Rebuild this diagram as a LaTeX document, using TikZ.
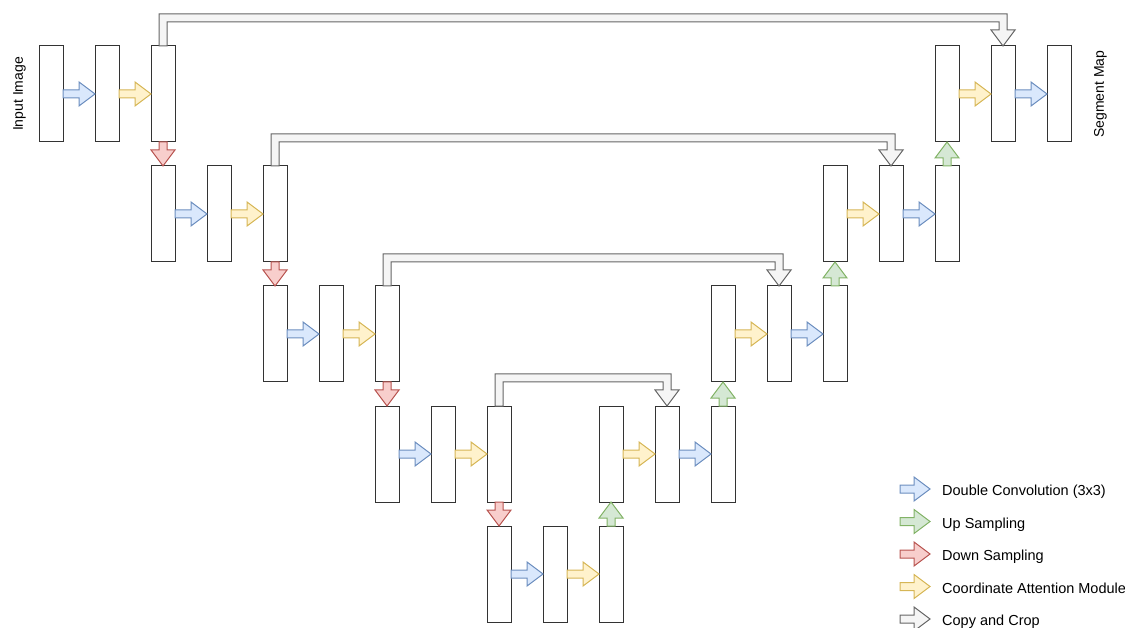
\documentclass[tikz,border=0pt]{standalone}
\usepackage{fontspec}
\setmainfont{Liberation Sans}
\usetikzlibrary{positioning, calc}
\definecolor{convfill}{HTML}{DAE8FC}
\definecolor{convline}{HTML}{6C8EBF}
\definecolor{upfill}{HTML}{D5E8D4}
\definecolor{upline}{HTML}{82B366}
\definecolor{downfill}{HTML}{F8CECC}
\definecolor{downline}{HTML}{B85450}
\definecolor{attfill}{HTML}{FFF2CC}
\definecolor{attline}{HTML}{D6B656}
\definecolor{copyfill}{HTML}{F5F5F5}
\definecolor{copyline}{HTML}{666666}

% straight block arrow: style, from, to
\newcommand{\flexarrow}[3]{%
  \coordinate (hb) at ($(#3)!16pt!(#2)$);
  \draw[#1] ($(#2)!4pt!90:(#3)$) -- ($(hb)!4pt!90:(#3)$) -- ($(hb)!12pt!90:(#3)$) -- (#3)
    -- ($(hb)!12pt!-90:(#3)$) -- ($(hb)!4pt!-90:(#3)$) -- ($(#2)!4pt!-90:(#3)$) -- cycle;}
% bent copy-and-crop arrow: from box, to box
\newcommand{\copyarrow}[2]{%
  \draw[copyarr] let \p1=(#1.north), \p2=(#2.north) in
    (\x1-4pt,\y1) -- (\x1-4pt,\y1+32pt) -- (\x2+4pt,\y1+32pt) -- (\x2+4pt,\y2+16pt)
    -- (\x2+12pt,\y2+16pt) -- (\x2,\y2) -- (\x2-12pt,\y2+16pt) -- (\x2-4pt,\y2+16pt)
    -- (\x2-4pt,\y1+24pt) -- (\x1+4pt,\y1+24pt) -- (\x1+4pt,\y1) -- cycle;}

\begin{document}
\begin{tikzpicture}[
    x=1pt, y=-1pt,
    node distance=24pt and 32pt,
    box/.style={draw=black!80, fill=white, line width=1pt, minimum width=24pt, minimum height=96pt, inner sep=0pt, outer sep=0pt},
    conv/.style={draw=convline, fill=convfill, line width=1pt},
    upsamp/.style={draw=upline, fill=upfill, line width=1pt},
    downsamp/.style={draw=downline, fill=downfill, line width=1pt},
    attn/.style={draw=attline, fill=attfill, line width=1pt},
    copyarr/.style={draw=copyline, fill=copyfill, line width=1pt},
    sidelabel/.style={rotate=90, inner sep=0pt, font=\fontsize{14}{16}\selectfont},
    legtext/.style={anchor=base west, inner sep=0pt, font=\fontsize{14.5}{17}\selectfont}
  ]
  \useasboundingbox (0,0) rectangle (1125,628);

  % contracting path
  \node[box] (l0a) at (51,94) {};
  \node[box, right=of l0a] (l0b) {};
  \node[box, right=of l0b] (l0c) {};
  \node[box, below=of l0c] (l1a) {};
  \node[box, right=of l1a] (l1b) {};
  \node[box, right=of l1b] (l1c) {};
  \node[box, below=of l1c] (l2a) {};
  \node[box, right=of l2a] (l2b) {};
  \node[box, right=of l2b] (l2c) {};
  \node[box, below=of l2c] (l3a) {};
  \node[box, right=of l3a] (l3b) {};
  \node[box, right=of l3b] (l3c) {};
  % bottleneck
  \node[box, below=of l3c] (b1) {};
  \node[box, right=of b1] (b2) {};
  \node[box, right=of b2] (b3) {};
  % expanding path
  \node[box, above=of b3] (r3a) {};
  \node[box, right=of r3a] (r3b) {};
  \node[box, right=of r3b] (r3c) {};
  \node[box, above=of r3c] (r2a) {};
  \node[box, right=of r2a] (r2b) {};
  \node[box, right=of r2b] (r2c) {};
  \node[box, above=of r2c] (r1a) {};
  \node[box, right=of r1a] (r1b) {};
  \node[box, right=of r1b] (r1c) {};
  \node[box, above=of r1c] (r0a) {};
  \node[box, right=of r0a] (r0b) {};
  \node[box, right=of r0b] (r0c) {};

  \node[sidelabel] (inlabel) at (19.5,94) {Input Image};
  \node[sidelabel] (outlabel) at (1100.5,94) {Segment Map};

  % double convolutions
  \flexarrow{conv}{l0a.east}{l0b.west}
  \flexarrow{conv}{l1a.east}{l1b.west}
  \flexarrow{conv}{l2a.east}{l2b.west}
  \flexarrow{conv}{l3a.east}{l3b.west}
  \flexarrow{conv}{b1.east}{b2.west}
  \flexarrow{conv}{r3b.east}{r3c.west}
  \flexarrow{conv}{r2b.east}{r2c.west}
  \flexarrow{conv}{r1b.east}{r1c.west}
  \flexarrow{conv}{r0b.east}{r0c.west}
  % coordinate attention
  \flexarrow{attn}{l0b.east}{l0c.west}
  \flexarrow{attn}{l1b.east}{l1c.west}
  \flexarrow{attn}{l2b.east}{l2c.west}
  \flexarrow{attn}{l3b.east}{l3c.west}
  \flexarrow{attn}{b2.east}{b3.west}
  \flexarrow{attn}{r3a.east}{r3b.west}
  \flexarrow{attn}{r2a.east}{r2b.west}
  \flexarrow{attn}{r1a.east}{r1b.west}
  \flexarrow{attn}{r0a.east}{r0b.west}
  % down and up sampling
  \flexarrow{downsamp}{l0c.south}{l1a.north}
  \flexarrow{downsamp}{l1c.south}{l2a.north}
  \flexarrow{downsamp}{l2c.south}{l3a.north}
  \flexarrow{downsamp}{l3c.south}{b1.north}
  \flexarrow{upsamp}{b3.north}{r3a.south}
  \flexarrow{upsamp}{r3c.north}{r2a.south}
  \flexarrow{upsamp}{r2c.north}{r1a.south}
  \flexarrow{upsamp}{r1c.north}{r0a.south}
  % skip connections
  \copyarrow{l0c}{r0b}
  \copyarrow{l1c}{r1b}
  \copyarrow{l2c}{r2b}
  \copyarrow{l3c}{r3b}

  % legend
  \coordinate (k1) at (900,489);
  \coordinate (k2) at (900,521.5);
  \coordinate (k3) at (900,554);
  \coordinate (k4) at (900,586.5);
  \coordinate (k5) at (900,619);
  \node[legtext] (t1) at ($(k1)+(42,6.5)$) {Double Convolution (3x3)};
  \node[legtext] (t2) at ($(k2)+(42,6.5)$) {Up Sampling};
  \node[legtext] (t3) at ($(k3)+(42,6.5)$) {Down Sampling};
  \node[legtext] (t4) at ($(k4)+(42,6.5)$) {Coordinate Attention Module};
  \node[legtext] (t5) at ($(k5)+(42,6.5)$) {Copy and Crop};
  \flexarrow{conv}{k1}{$(k1)+(30,0)$}
  \flexarrow{upsamp}{k2}{$(k2)+(30,0)$}
  \flexarrow{downsamp}{k3}{$(k3)+(30,0)$}
  \flexarrow{attn}{k4}{$(k4)+(30,0)$}
  \flexarrow{copyarr}{k5}{$(k5)+(30,0)$}
\end{tikzpicture}
\end{document}
